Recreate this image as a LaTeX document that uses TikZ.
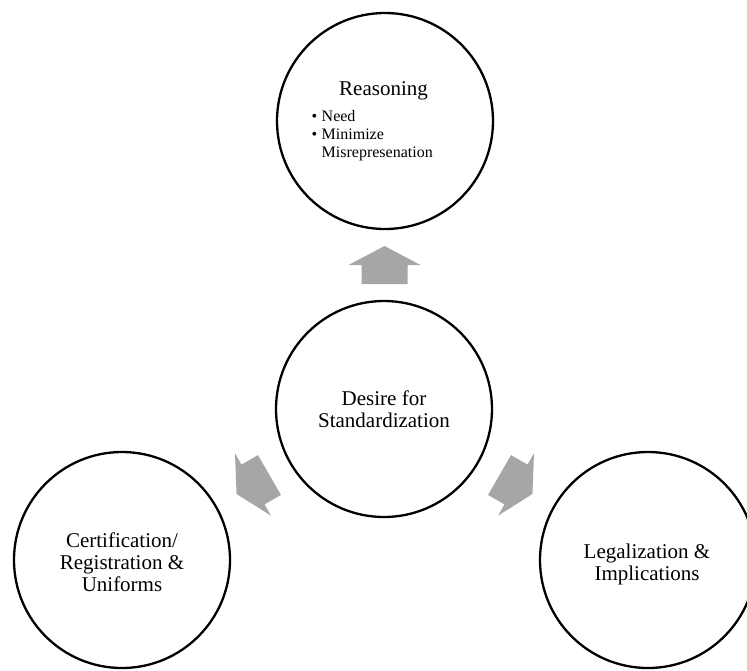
\documentclass[tikz,border=0pt]{standalone}
\usepackage{fontspec}
\setmainfont{Liberation Serif}
\usetikzlibrary{calc}

\definecolor{arrowgray}{RGB}{166,166,166}

\tikzset{
  bubble/.style={circle, draw=black, line width=2.3pt, minimum size=216pt, inner sep=0pt},
  bubbletext/.style={anchor=base, inner sep=0pt, font=\fontsize{21}{22}\selectfont},
  listtext/.style={anchor=base west, inner sep=0pt, font=\fontsize{16}{18}\selectfont},
  blockarrow/.pic={
    \fill[arrowgray] (-19,-23) -- (0,-23) -- (0,-36) -- (19,0) -- (0,36) -- (0,23) -- (-19,23) -- cycle;
  }
}

\begin{document}
\begin{tikzpicture}[x=1pt, y=-1pt]
  \useasboundingbox (0,0) rectangle (747,670);

  % the four circles
  \node[bubble] (reason) at (385,121) {};
  \node[bubble] (hub)    at (384,409) {};
  \node[bubble] (cert)   at (122,560) {};
  \node[bubble] (legal)  at (648,560) {};

  % block arrows, half way between the hub and each outer circle
  \pic[rotate=90]  at ($(hub)!0.5!(reason)$) {blockarrow};
  \pic[rotate=210] at ($(hub)!0.5!(cert)$)   {blockarrow};
  \pic[rotate=330] at ($(hub)!0.5!(legal)$)  {blockarrow};

  % labels
  \node[bubbletext] (reasonTitle) at (383.5,95) {Reasoning};
  \node[listtext] (reasonList) at (311.5,121.7)
    {\begin{tabular}[t]{@{}l@{\hspace{4.4pt}}l@{}}
      \textbullet & Need\\
      \textbullet & Minimize\\
                  & Misrepresenation
     \end{tabular}};

  \node[bubbletext] (hubText) at (384,405)
    {\begin{tabular}[t]{@{}c@{}}Desire for\\Standardization\end{tabular}};
  \node[bubbletext] (certText) at (122,547)
    {\begin{tabular}[t]{@{}c@{}}Certification/\\Registration \&\\Uniforms\end{tabular}};
  \node[bubbletext] (legalText) at (647,558)
    {\begin{tabular}[t]{@{}c@{}}Legalization \&\\Implications\end{tabular}};
\end{tikzpicture}
\end{document}
